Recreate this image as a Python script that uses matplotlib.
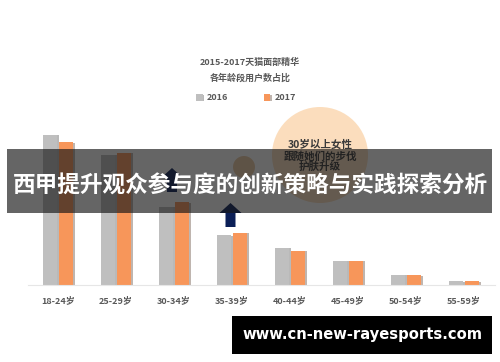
import numpy as np
import matplotlib
matplotlib.use('Agg')
import matplotlib.pyplot as plt
import matplotlib.patches as mpatches
import matplotlib.patheffects as pe

plt.rcParams['font.family'] = ['Noto Sans CJK SC', 'DejaVu Sans']

# data (share of users, %)
ages = ['18-24岁', '25-29岁', '30-34岁', '35-39岁', '40-44岁', '45-49岁', '50-54岁', '55-59岁']
share_2016 = [25.0, 21.7, 13.0, 8.3, 6.2, 4.0, 1.7, 0.6]
share_2017 = [23.8, 22.0, 13.8, 8.7, 5.7, 4.0, 1.6, 0.6]
chart_title = '2015-2017天猫面部精华\n各年龄段用户数占比'
note_text = '30岁以上女性\n跟随她们的步伐\n护肤升级'
banner_text = '西甲提升观众参与度的创新策略与实践探索分析'
site_text = 'www.cn-new-rayesports.com'

W, H = 500, 362
GRAY = '#bfbfbf'
ORANGE = '#f7965a'
NAVY = '#0b1f57'

fig = plt.figure(figsize=(W / 100, H / 100), dpi=100)
fig.patch.set_facecolor('white')

# bar chart axes: baseline at y=285px, categories 58px apart starting at x=58
ax = fig.add_axes([28 / W, (H - 285) / H, (495 - 28) / W, 165 / H])
x = np.arange(len(ages))
shadow = [pe.SimplePatchShadow(offset=(1.2, -0.3), alpha=0.35), pe.Normal()]
b1 = ax.bar(x - 0.14, share_2016, width=0.24, color=GRAY, label='2016', zorder=2)
b2 = ax.bar(x + 0.14, share_2017, width=0.24, color=ORANGE, label='2017', zorder=2)
for b in list(b1) + list(b2):
    b.set_path_effects(shadow)
ax.set_xlim(-30 / 58, (495 - 58) / 58)
ax.set_ylim(0, 27.5)
ax.set_xticks(x)
ax.set_xticklabels(ages, fontsize=6.5, color='#595959', fontweight='bold')
ax.tick_params(axis='x', length=0, pad=8)
ax.set_yticks([])
for s in ['top', 'right', 'left']:
    ax.spines[s].set_visible(False)
ax.spines['bottom'].set_color('#e6e6e6')
ax.patch.set_alpha(0)

fig.text(250 / W, 1 - 70 / H, chart_title, ha='center', va='center', fontsize=6.5,
         color='#595959', fontweight='bold', linespacing=1.9)
fig.legend(handles=[b1, b2], loc='center', bbox_to_anchor=(246 / W, 1 - 98 / H),
           ncol=2, frameon=False, handlelength=0.7, handleheight=0.7,
           columnspacing=3.9, handletextpad=0.5, labelcolor='#595959',
           prop={'weight': 'bold', 'size': 6.5})

# overlay in pixel coordinates for the decorations
ov = fig.add_axes([0, 0, 1, 1], zorder=5)
ov.set_xlim(0, W)
ov.set_ylim(H, 0)
ov.axis('off')
ov.patch.set_alpha(0)

ov.add_patch(mpatches.Circle((320, 155), 48, color='#fbdab6', alpha=0.9, lw=0, zorder=1))
ov.add_patch(mpatches.Circle((244, 167), 11, color='#e8c39a', alpha=0.9, lw=0, zorder=1))
ov.text(320, 156, note_text, ha='center', va='center', fontsize=7.6,
        color='#3a3a3a', fontweight='bold', linespacing=1.1, zorder=2)

for ax_x, base_y in [(172, 192), (230.5, 227)]:
    ov.add_patch(mpatches.FancyArrow(ax_x, base_y, 0, -24, width=10, head_width=22,
                                     head_length=10, length_includes_head=True,
                                     color=NAVY, lw=0, zorder=3))

ov.add_patch(mpatches.Rectangle((7, 149), 485, 64, color='#161616', alpha=0.66, lw=0,
                                zorder=10))
ov.text(250, 186, banner_text, ha='center', va='center', fontsize=16.3, color='white',
        fontweight='bold', zorder=11)

ov.add_patch(mpatches.Rectangle((232, 316), 260, 38, color='black', lw=0, zorder=12))
ov.text(362, 335, site_text, ha='center', va='center', fontsize=10.6, color='white',
        fontweight='bold', family=['DejaVu Sans'], zorder=13)

fig.savefig('out.png', dpi=100)
